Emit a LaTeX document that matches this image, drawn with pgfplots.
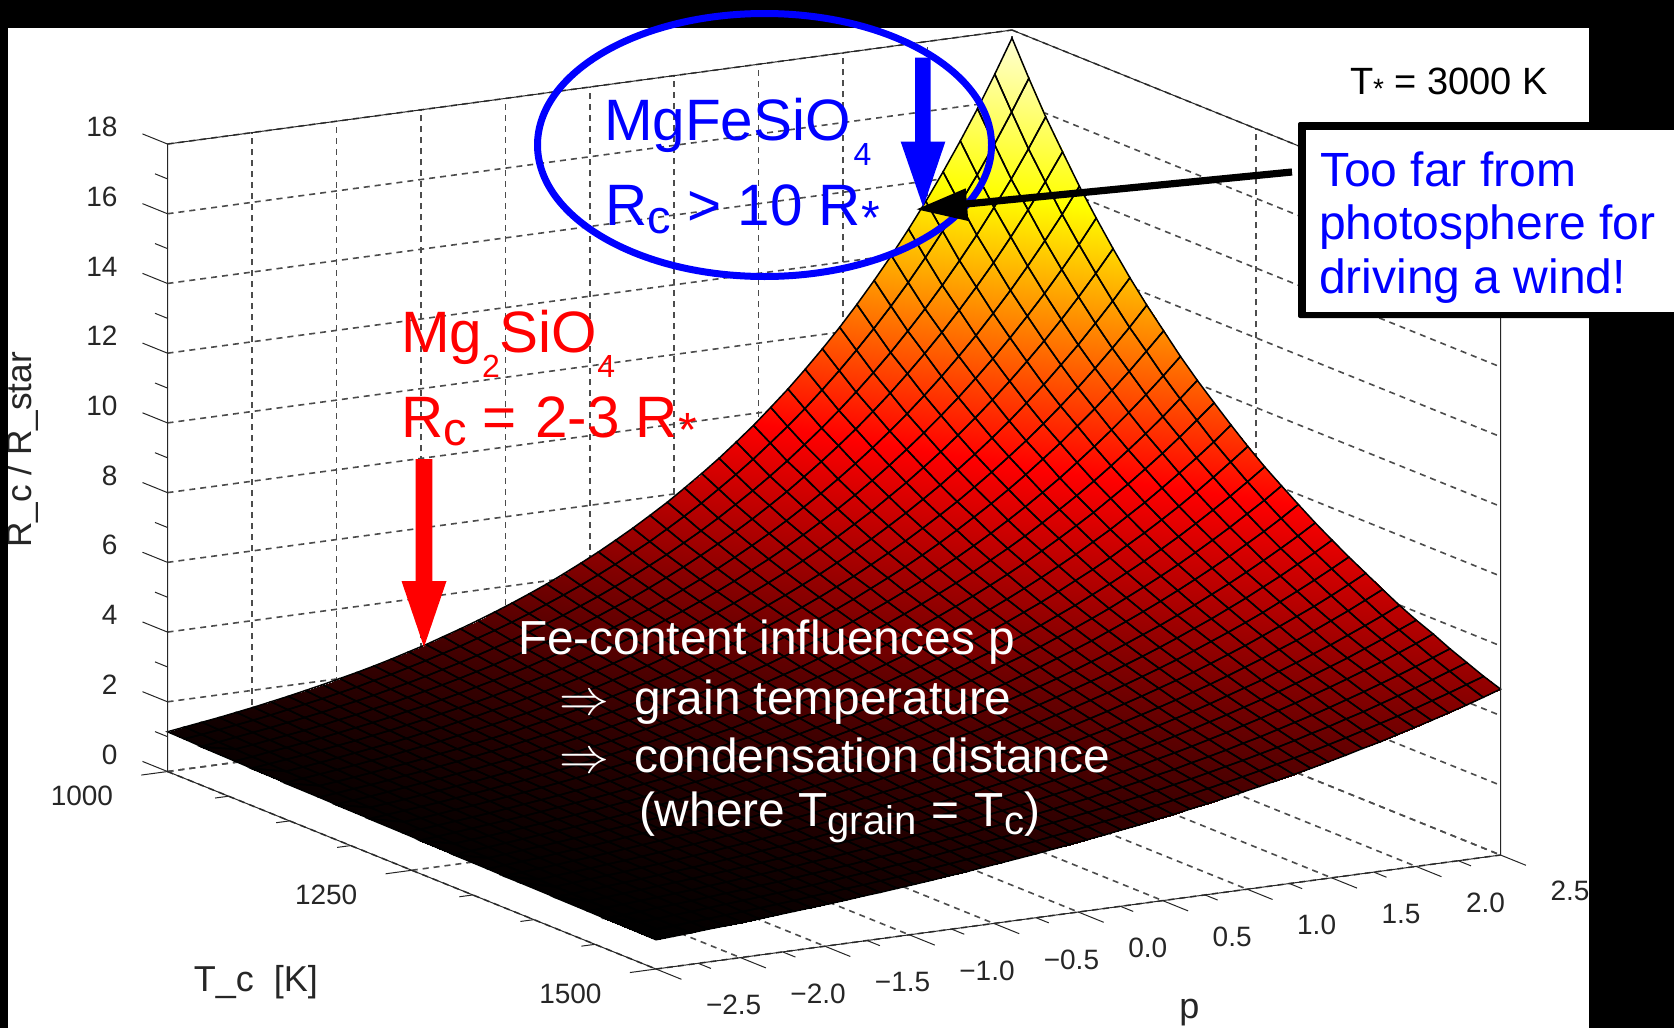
\documentclass[border=0pt]{standalone}
\usepackage{fontspec}
\setmainfont{Liberation Sans}
\usepackage{pgfplots}
\usepackage{pgfplotstable}
\pgfplotsset{compat=1.18}
\pgfplotsset{colormap={hotz}{rgb255(0)=(0,0,0); rgb255(407)=(255,0,0); rgb255(770)=(255,255,0); rgb255(1000)=(255,255,210)}}
\tikzset{px/.style={x=0.5pt,y=-0.5pt},
  txt/.style={anchor=base west,inner sep=0pt,outer sep=0pt},
  tk/.style={black!85,line width=0.5pt}}
\newcommand{\fs}[1]{\fontsize{#1}{#1}\selectfont}
\pgfplotstableread[row sep=\\]{
z\\
1.14\\1.21\\1.28\\1.35\\1.43\\1.51\\1.60\\1.69\\1.79\\1.89\\2.00\\2.11\\2.23\\2.36\\2.50\\2.64\\2.80\\2.96\\3.13\\3.31\\3.50\\3.70\\3.91\\4.14\\4.38\\4.63\\4.90\\5.18\\5.48\\5.79\\6.13\\6.48\\6.85\\7.25\\7.66\\8.11\\8.57\\9.07\\9.59\\10.14\\10.73\\11.35\\12.00\\12.69\\13.42\\14.20\\15.02\\15.88\\16.80\\17.77\\
1.13\\1.19\\1.26\\1.33\\1.40\\1.48\\1.57\\1.66\\1.75\\1.85\\1.95\\2.07\\2.18\\2.31\\2.44\\2.58\\2.72\\2.88\\3.04\\3.21\\3.39\\3.59\\3.79\\4.00\\4.23\\4.47\\4.73\\4.99\\5.28\\5.58\\5.89\\6.23\\6.58\\6.95\\7.35\\7.76\\8.20\\8.67\\9.16\\9.68\\10.23\\10.81\\11.42\\12.07\\12.76\\13.48\\14.24\\15.05\\15.91\\16.81\\
1.11\\1.17\\1.24\\1.31\\1.38\\1.46\\1.54\\1.62\\1.72\\1.81\\1.91\\2.02\\2.13\\2.25\\2.38\\2.51\\2.65\\2.80\\2.95\\3.12\\3.29\\3.47\\3.67\\3.87\\4.09\\4.32\\4.56\\4.81\\5.08\\5.36\\5.66\\5.98\\6.31\\6.66\\7.03\\7.43\\7.84\\8.28\\8.74\\9.23\\9.74\\10.29\\10.86\\11.47\\12.11\\12.78\\13.50\\14.25\\15.05\\15.90\\
1.10\\1.16\\1.22\\1.29\\1.36\\1.43\\1.51\\1.60\\1.68\\1.78\\1.87\\1.98\\2.09\\2.20\\2.32\\2.45\\2.58\\2.73\\2.87\\3.03\\3.20\\3.38\\3.56\\3.76\\3.96\\4.18\\4.41\\4.65\\4.91\\5.18\\5.46\\5.76\\6.08\\6.41\\6.77\\7.14\\7.53\\7.94\\8.38\\8.84\\9.33\\9.84\\10.38\\10.95\\11.55\\12.18\\12.85\\13.56\\14.30\\15.09\\
1.08\\1.14\\1.21\\1.27\\1.34\\1.41\\1.49\\1.57\\1.65\\1.74\\1.84\\1.93\\2.04\\2.15\\2.27\\2.39\\2.52\\2.65\\2.80\\2.95\\3.11\\3.27\\3.45\\3.64\\3.83\\4.04\\4.26\\4.49\\4.73\\4.99\\5.26\\5.54\\5.84\\6.16\\6.49\\6.84\\7.21\\7.60\\8.01\\8.44\\8.90\\9.38\\9.89\\10.42\\10.99\\11.58\\12.21\\12.87\\13.56\\14.30\\
1.07\\1.13\\1.19\\1.25\\1.32\\1.39\\1.46\\1.54\\1.62\\1.71\\1.80\\1.90\\2.00\\2.10\\2.21\\2.33\\2.46\\2.59\\2.72\\2.87\\3.02\\3.18\\3.35\\3.53\\3.72\\3.91\\4.12\\4.34\\4.57\\4.82\\5.07\\5.34\\5.63\\5.93\\6.24\\6.57\\6.92\\7.29\\7.68\\8.09\\8.52\\8.97\\9.45\\9.95\\10.48\\11.04\\11.62\\12.24\\12.89\\13.58\\
1.06\\1.11\\1.17\\1.23\\1.30\\1.37\\1.44\\1.51\\1.59\\1.68\\1.76\\1.86\\1.95\\2.06\\2.16\\2.28\\2.40\\2.52\\2.65\\2.79\\2.94\\3.09\\3.25\\3.42\\3.60\\3.79\\3.99\\4.20\\4.42\\4.65\\4.89\\5.15\\5.42\\5.70\\6.00\\6.31\\6.65\\6.99\\7.36\\7.74\\8.15\\8.58\\9.03\\9.50\\10.00\\10.52\\11.07\\11.65\\12.26\\12.90\\
1.05\\1.10\\1.16\\1.22\\1.28\\1.35\\1.41\\1.49\\1.56\\1.64\\1.73\\1.82\\1.91\\2.01\\2.11\\2.22\\2.34\\2.46\\2.58\\2.72\\2.86\\3.00\\3.16\\3.32\\3.49\\3.67\\3.86\\4.06\\4.27\\4.49\\4.72\\4.96\\5.22\\5.49\\5.77\\6.07\\6.38\\6.71\\7.05\\7.42\\7.80\\8.20\\8.62\\9.07\\9.53\\10.03\\10.54\\11.09\\11.66\\12.26\\
1.03\\1.09\\1.14\\1.20\\1.26\\1.33\\1.39\\1.46\\1.54\\1.61\\1.70\\1.78\\1.87\\1.97\\2.07\\2.17\\2.28\\2.40\\2.52\\2.65\\2.78\\2.92\\3.07\\3.23\\3.39\\3.56\\3.74\\3.93\\4.13\\4.34\\4.56\\4.79\\5.03\\5.29\\5.56\\5.84\\6.14\\6.45\\6.77\\7.12\\7.48\\7.86\\8.25\\8.67\\9.11\\9.57\\10.06\\10.57\\11.10\\11.67\\
1.02\\1.07\\1.13\\1.18\\1.24\\1.31\\1.37\\1.44\\1.51\\1.59\\1.67\\1.75\\1.84\\1.93\\2.02\\2.13\\2.23\\2.34\\2.46\\2.58\\2.71\\2.85\\2.99\\3.14\\3.29\\3.46\\3.63\\3.81\\4.00\\4.20\\4.41\\4.63\\4.87\\5.11\\5.36\\5.63\\5.91\\6.21\\6.52\\6.84\\7.18\\7.54\\7.92\\8.31\\8.73\\9.16\\9.62\\10.10\\10.61\\11.13\\
1.01\\1.06\\1.11\\1.17\\1.23\\1.29\\1.35\\1.42\\1.48\\1.56\\1.63\\1.71\\1.80\\1.89\\1.98\\2.08\\2.18\\2.29\\2.40\\2.52\\2.64\\2.77\\2.90\\3.05\\3.20\\3.35\\3.52\\3.69\\3.87\\4.06\\4.26\\4.47\\4.69\\4.92\\5.16\\5.42\\5.68\\5.96\\6.25\\6.56\\6.88\\7.22\\7.57\\7.95\\8.34\\8.75\\9.18\\9.63\\10.10\\10.59\\
1.00\\1.05\\1.10\\1.15\\1.21\\1.27\\1.33\\1.39\\1.46\\1.53\\1.60\\1.68\\1.76\\1.85\\1.94\\2.03\\2.13\\2.23\\2.34\\2.45\\2.57\\2.70\\2.83\\2.96\\3.11\\3.26\\3.41\\3.58\\3.75\\3.93\\4.12\\4.32\\4.53\\4.75\\4.98\\5.22\\5.47\\5.74\\6.01\\6.30\\6.61\\6.93\\7.26\\7.61\\7.98\\8.37\\8.77\\9.19\\9.64\\10.10\\
0.99\\1.04\\1.09\\1.14\\1.19\\1.25\\1.31\\1.37\\1.44\\1.50\\1.58\\1.65\\1.73\\1.81\\1.90\\1.99\\2.08\\2.18\\2.29\\2.39\\2.51\\2.63\\2.75\\2.88\\3.02\\3.17\\3.32\\3.47\\3.64\\3.81\\3.99\\4.18\\4.38\\4.59\\4.81\\5.04\\5.28\\5.53\\5.79\\6.07\\6.36\\6.66\\6.97\\7.31\\7.65\\8.02\\8.40\\8.80\\9.22\\9.65\\
0.98\\1.03\\1.07\\1.12\\1.18\\1.23\\1.29\\1.35\\1.41\\1.48\\1.55\\1.62\\1.70\\1.78\\1.86\\1.95\\2.04\\2.13\\2.23\\2.34\\2.44\\2.56\\2.68\\2.80\\2.94\\3.07\\3.22\\3.37\\3.52\\3.69\\3.86\\4.04\\4.23\\4.43\\4.64\\4.85\\5.08\\5.32\\5.57\\5.83\\6.10\\6.39\\6.68\\7.00\\7.32\\7.67\\8.03\\8.40\\8.79\\9.21\\
0.97\\1.01\\1.06\\1.11\\1.16\\1.21\\1.27\\1.33\\1.39\\1.45\\1.52\\1.59\\1.66\\1.74\\1.82\\1.90\\1.99\\2.08\\2.18\\2.28\\2.38\\2.49\\2.61\\2.73\\2.85\\2.99\\3.12\\3.27\\3.42\\3.58\\3.74\\3.91\\4.09\\4.28\\4.48\\4.68\\4.90\\5.12\\5.36\\5.61\\5.86\\6.13\\6.42\\6.71\\7.02\\7.34\\7.68\\8.04\\8.41\\8.79\\
0.96\\1.00\\1.05\\1.10\\1.15\\1.20\\1.25\\1.31\\1.37\\1.43\\1.49\\1.56\\1.63\\1.71\\1.78\\1.86\\1.95\\2.04\\2.13\\2.23\\2.33\\2.43\\2.54\\2.66\\2.78\\2.90\\3.03\\3.17\\3.32\\3.47\\3.62\\3.79\\3.96\\4.14\\4.32\\4.52\\4.72\\4.94\\5.16\\5.40\\5.64\\5.90\\6.16\\6.44\\6.73\\7.04\\7.36\\7.69\\8.04\\8.40\\
0.95\\0.99\\1.04\\1.08\\1.13\\1.18\\1.23\\1.29\\1.35\\1.41\\1.47\\1.53\\1.60\\1.67\\1.75\\1.83\\1.91\\1.99\\2.08\\2.18\\2.27\\2.37\\2.48\\2.59\\2.71\\2.83\\2.95\\3.08\\3.22\\3.36\\3.51\\3.67\\3.83\\4.01\\4.18\\4.37\\4.57\\4.77\\4.98\\5.20\\5.44\\5.68\\5.93\\6.19\\6.47\\6.76\\7.06\\7.38\\7.70\\8.05\\
0.94\\0.98\\1.02\\1.07\\1.12\\1.17\\1.22\\1.27\\1.33\\1.38\\1.44\\1.51\\1.57\\1.64\\1.72\\1.79\\1.87\\1.95\\2.04\\2.13\\2.22\\2.32\\2.42\\2.52\\2.64\\2.75\\2.87\\3.00\\3.13\\3.27\\3.41\\3.56\\3.71\\3.88\\4.05\\4.23\\4.41\\4.60\\4.81\\5.02\\5.24\\5.47\\5.71\\5.96\\6.22\\6.49\\6.78\\7.07\\7.38\\7.71\\
0.93\\0.97\\1.01\\1.06\\1.10\\1.15\\1.20\\1.25\\1.31\\1.36\\1.42\\1.48\\1.55\\1.61\\1.68\\1.75\\1.83\\1.91\\1.99\\2.08\\2.17\\2.26\\2.36\\2.46\\2.57\\2.68\\2.79\\2.91\\3.04\\3.17\\3.31\\3.45\\3.60\\3.75\\3.91\\4.08\\4.26\\4.44\\4.64\\4.84\\5.04\\5.26\\5.49\\5.73\\5.97\\6.23\\6.50\\6.78\\7.07\\7.38\\
0.92\\0.96\\1.00\\1.04\\1.09\\1.14\\1.18\\1.23\\1.29\\1.34\\1.40\\1.46\\1.52\\1.58\\1.65\\1.72\\1.79\\1.87\\1.95\\2.03\\2.12\\2.21\\2.30\\2.40\\2.50\\2.61\\2.72\\2.84\\2.96\\3.08\\3.21\\3.35\\3.49\\3.64\\3.80\\3.96\\4.12\\4.30\\4.48\\4.67\\4.87\\5.08\\5.29\\5.52\\5.75\\6.00\\6.25\\6.52\\6.79\\7.08\\
0.91\\0.95\\0.99\\1.03\\1.08\\1.12\\1.17\\1.22\\1.27\\1.32\\1.38\\1.43\\1.49\\1.56\\1.62\\1.69\\1.76\\1.83\\1.91\\1.99\\2.07\\2.16\\2.25\\2.34\\2.44\\2.54\\2.65\\2.76\\2.87\\2.99\\3.12\\3.25\\3.39\\3.53\\3.68\\3.83\\3.99\\4.16\\4.33\\4.51\\4.70\\4.90\\5.10\\5.31\\5.53\\5.77\\6.01\\6.26\\6.52\\6.79\\
0.90\\0.94\\0.98\\1.02\\1.06\\1.11\\1.15\\1.20\\1.25\\1.30\\1.35\\1.41\\1.47\\1.53\\1.59\\1.66\\1.72\\1.79\\1.87\\1.94\\2.02\\2.11\\2.19\\2.29\\2.38\\2.48\\2.58\\2.68\\2.80\\2.91\\3.03\\3.15\\3.28\\3.42\\3.56\\3.71\\3.86\\4.02\\4.18\\4.35\\4.53\\4.72\\4.91\\5.12\\5.33\\5.55\\5.77\\6.01\\6.26\\6.52\\
0.90\\0.93\\0.97\\1.01\\1.05\\1.09\\1.14\\1.18\\1.23\\1.28\\1.33\\1.39\\1.44\\1.50\\1.56\\1.62\\1.69\\1.76\\1.83\\1.90\\1.98\\2.06\\2.14\\2.23\\2.32\\2.41\\2.51\\2.61\\2.72\\2.83\\2.94\\3.06\\3.19\\3.31\\3.45\\3.59\\3.73\\3.88\\4.04\\4.20\\4.37\\4.55\\4.73\\4.93\\5.12\\5.33\\5.55\\5.77\\6.01\\6.25\\
0.89\\0.92\\0.96\\1.00\\1.04\\1.08\\1.12\\1.17\\1.21\\1.26\\1.31\\1.36\\1.42\\1.47\\1.53\\1.59\\1.66\\1.72\\1.79\\1.86\\1.93\\2.01\\2.09\\2.17\\2.26\\2.35\\2.44\\2.54\\2.64\\2.75\\2.86\\2.97\\3.09\\3.21\\3.34\\3.47\\3.61\\3.75\\3.90\\4.06\\4.22\\4.38\\4.56\\4.74\\4.93\\5.12\\5.33\\5.54\\5.76\\5.99\\
0.88\\0.91\\0.95\\0.99\\1.03\\1.07\\1.11\\1.15\\1.20\\1.24\\1.29\\1.34\\1.39\\1.45\\1.50\\1.56\\1.62\\1.69\\1.75\\1.82\\1.89\\1.97\\2.05\\2.13\\2.21\\2.29\\2.38\\2.48\\2.57\\2.68\\2.78\\2.89\\3.00\\3.12\\3.24\\3.37\\3.50\\3.64\\3.78\\3.93\\4.08\\4.24\\4.41\\4.58\\4.76\\4.94\\5.14\\5.34\\5.55\\5.76\\
0.87\\0.91\\0.94\\0.98\\1.01\\1.05\\1.09\\1.14\\1.18\\1.23\\1.27\\1.32\\1.37\\1.43\\1.48\\1.54\\1.60\\1.66\\1.72\\1.79\\1.86\\1.93\\2.00\\2.08\\2.16\\2.24\\2.33\\2.42\\2.51\\2.61\\2.71\\2.81\\2.92\\3.04\\3.15\\3.27\\3.40\\3.53\\3.67\\3.81\\3.96\\4.11\\4.27\\4.43\\4.60\\4.78\\4.96\\5.15\\5.35\\5.56\\
0.86\\0.90\\0.93\\0.97\\1.00\\1.04\\1.08\\1.12\\1.16\\1.21\\1.25\\1.30\\1.35\\1.40\\1.45\\1.51\\1.57\\1.62\\1.69\\1.75\\1.82\\1.88\\1.96\\2.03\\2.11\\2.19\\2.27\\2.36\\2.44\\2.54\\2.63\\2.73\\2.84\\2.94\\3.06\\3.17\\3.29\\3.42\\3.54\\3.68\\3.82\\3.96\\4.11\\4.27\\4.43\\4.60\\4.77\\4.95\\5.14\\5.33\\
0.86\\0.89\\0.92\\0.96\\0.99\\1.03\\1.07\\1.11\\1.15\\1.19\\1.23\\1.28\\1.33\\1.38\\1.43\\1.48\\1.54\\1.59\\1.65\\1.72\\1.78\\1.85\\1.91\\1.99\\2.06\\2.14\\2.22\\2.30\\2.38\\2.47\\2.56\\2.66\\2.76\\2.86\\2.97\\3.08\\3.19\\3.31\\3.43\\3.56\\3.70\\3.83\\3.98\\4.12\\4.28\\4.44\\4.60\\4.77\\4.95\\5.13\\
0.85\\0.88\\0.91\\0.95\\0.98\\1.02\\1.05\\1.09\\1.13\\1.17\\1.22\\1.26\\1.31\\1.35\\1.40\\1.45\\1.51\\1.56\\1.62\\1.68\\1.74\\1.80\\1.87\\1.94\\2.01\\2.08\\2.16\\2.24\\2.32\\2.40\\2.49\\2.58\\2.68\\2.78\\2.88\\2.98\\3.09\\3.21\\3.32\\3.44\\3.57\\3.70\\3.84\\3.98\\4.12\\4.27\\4.43\\4.59\\4.76\\4.93\\
0.84\\0.87\\0.90\\0.94\\0.97\\1.00\\1.04\\1.08\\1.12\\1.16\\1.20\\1.24\\1.29\\1.33\\1.38\\1.43\\1.48\\1.54\\1.59\\1.65\\1.71\\1.77\\1.83\\1.90\\1.97\\2.04\\2.11\\2.19\\2.26\\2.35\\2.43\\2.52\\2.61\\2.70\\2.80\\2.90\\3.00\\3.11\\3.22\\3.34\\3.46\\3.59\\3.71\\3.85\\3.99\\4.13\\4.28\\4.43\\4.59\\4.76\\
}\zt
\begin{document}
\begin{tikzpicture}
\useasboundingbox (0pt,0pt) rectangle (837pt,-514pt);
\begin{scope}[px]
\fill[black] (0,0) rectangle (1674,1028);
\fill[white] (8,28) rectangle (1589,1028);
\end{scope}
\begin{axis}[
  at={(294.875pt,-357.25pt)},anchor=origin,
  disabledatascaling,
  x={(0.4885pt,-0.1975pt)},y={(84.45pt,11.4pt)},z={(0pt,17.43pt)},
  xmin=1000,xmax=1500,ymin=-2.5,ymax=2.5,zmin=0,zmax=18,
  clip=false,
  xtick={1000,1250,1500},
  ytick={-2.5,-2,-1.5,-1,-0.5,0,0.5,1,1.5,2,2.5},
  yticklabels={−2.5,−2.0,−1.5,−1.0,−0.5,0.0,0.5,1.0,1.5,2.0,2.5},
  ztick={0,2,4,6,8,10,12,14,16,18},
  tick align=inside,major tick length=0pt,minor tick length=0pt,
  tick style={draw=none},
  grid=major,grid style={dash pattern=on 3pt off 2.5pt,black!70,line width=0.8pt},
  axis line style={draw=none},
  /pgf/number format/assume math mode=true,
  /pgf/number format/1000 sep={},
  tick label style={font=\fs{14},black!85,inner sep=0pt,outer sep=0pt},
  xticklabel style={anchor=center,xshift=-42.8pt,yshift=-12.4pt},
  yticklabel style={anchor=west,xshift=25pt,yshift=-18pt},
  zticklabel style={anchor=east,xshift=-25pt,yshift=8.5pt},
  colormap name=hotz,point meta min=0.84,point meta max=17.7,
  xlabel={T\_c\ \ [K]},ylabel={p},zlabel={R\_c / R\_star},
  xlabel style={at={(axis cs:1422,-4.418,0)},anchor=center,font=\fs{18},black!85},
  ylabel style={at={(axis cs:1716,-0.591,0)},anchor=center,font=\fs{18},yshift=-1pt,black!85},
  zlabel style={at={(axis cs:352.5,0.384,0)},anchor=center,font=\fs{17.6},black!85},
]
\addplot3[surf,shader=interp,
  mesh/rows=50,mesh/cols=30,mesh/ordering=y varies]
 table[x index=0,y index=0,z index=0,x expr={1000+floor(\coordindex/50)*500/29},y expr={-2.5+mod(\coordindex,50)*5/49}] {\zt};
\addplot3[mesh,draw=black,line width=0.75pt,
  mesh/rows=50,mesh/cols=30,mesh/ordering=y varies]
 table[x index=0,y index=0,z index=0,x expr={1000+floor(\coordindex/50)*500/29},y expr={-2.5+mod(\coordindex,50)*5/49}] {\zt};
% box edges
\draw[tk] (axis cs:1000,-2.5,0) -- (axis cs:1500,-2.5,0) -- (axis cs:1500,2.5,0) -- (axis cs:1500,2.5,18) -- (axis cs:1000,2.5,18) -- (axis cs:1000,-2.5,18) -- cycle;
% z ticks
\pgfplotsinvokeforeach{0,2,4,6,8,10,12,14,16,18}{\draw[tk] (axis cs:1000,-2.5,#1) -- (axis cs:974.4,-2.5,#1);}
\pgfplotsinvokeforeach{1,3,5,7,9,11,13,15,17}{\draw[tk] (axis cs:1000,-2.5,#1) -- (axis cs:987.2,-2.5,#1);}
% T ticks
\pgfplotsinvokeforeach{1000,1250,1500}{\draw[tk] (axis cs:#1,-2.5,0) -- (axis cs:#1,-2.655,0);}
\pgfplotsinvokeforeach{1062.5,1125,1187.5,1312.5,1375,1437.5}{\draw[tk] (axis cs:#1,-2.5,0) -- (axis cs:#1,-2.58,0);}
% p ticks
\pgfplotsinvokeforeach{-2.5,-2,-1.5,-1,-0.5,0,0.5,1,1.5,2,2.5}{\draw[tk] (axis cs:1500,#1,0) -- (axis cs:1526,#1,0);}
\pgfplotsinvokeforeach{-2.25,-1.75,-1.25,-0.75,-0.25,0.25,0.75,1.25,1.75,2.25}{\draw[tk] (axis cs:1500,#1,0) -- (axis cs:1513,#1,0);}
\end{axis}
\begin{scope}[px]
\fill[black] (1589,0) rectangle (1674,1028);
\fill[black] (0,0) rectangle (1674,28);
\fill[black] (0,0) rectangle (8,1028);
% callout
\fill[black,rounded corners=1pt] (1298,122) rectangle (1680,318);
\fill[white] (1305.5,130) rectangle (1680,312);
% T* label
\node[txt,font=\fs{19},black] at (1350,94) {T\raisebox{-2pt}{\fs{14}*} = 3000 K};
% ellipse
\draw[blue,line width=3.5pt] (764.5,145) ellipse [x radius=227,y radius=131.5];
% blue text
\node[txt,font=\fs{29.2},blue] at (604,140.7) {MgFeSiO\kern1.5pt\raisebox{-12.2pt}{\fs{16}4}};
\node[txt,font=\fs{29.2},blue] at (605.5,225) {R\raisebox{-4pt}{\fs{23.5}c} > 10 R\raisebox{-4.5pt}{\fs{24}*}};
% blue arrow
\fill[blue] (915,57.7) -- (930.7,57.7) -- (930.7,141.7) -- (945.3,141.7) -- (923.2,207) -- (900.7,141.7) -- (915,141.7) -- cycle;
% black arrow
\draw[black,line width=3.6pt] (1292,172) -- (966,204);
\fill[black] (916.7,209.3) -- (965.7,188.3) -- (968.3,221) -- cycle;
% red text
\node[txt,font=\fs{29.2},red] at (401,352.3) {Mg\raisebox{-12.5pt}{\fs{16}2}SiO\raisebox{-12.5pt}{\fs{16}4}};
\node[txt,font=\fs{29.2},red] at (401,437.3) {R\raisebox{-4pt}{\fs{23.5}c} = \kern1pt2-3 R\raisebox{-4.5pt}{\fs{24}*}};
% red arrow
\fill[red] (415.5,459) -- (432.3,459) -- (432.3,581) -- (446.5,581) -- (424,647) -- (401.5,581) -- (415.5,581) -- cycle;
% white text
\node[txt,font=\fs{23.9},white] at (518,654.3) {Fe-content influences p};
\node[txt,font=\fs{23.9},white] at (559,714) {$\Rightarrow$\hspace{12.8pt}grain temperature};
\node[txt,font=\fs{23.9},white] at (559,772.3) {$\Rightarrow$\hspace{12.8pt}condensation distance};
\node[txt,font=\fs{23.9},white] at (639,826) {(where T\raisebox{-4pt}{\fs{20}grain}\kern1pt{} = \kern1pt T\raisebox{-4pt}{\fs{20}c})};
% callout text
\node[txt,font=\fs{24},blue] at (1320,186.7) {Too far from};
\node[txt,font=\fs{24},blue] at (1319,239.3) {photosphere for};
\node[txt,font=\fs{24},blue] at (1319,293.3) {driving a wind!};
\end{scope}
\end{tikzpicture}
\end{document}
